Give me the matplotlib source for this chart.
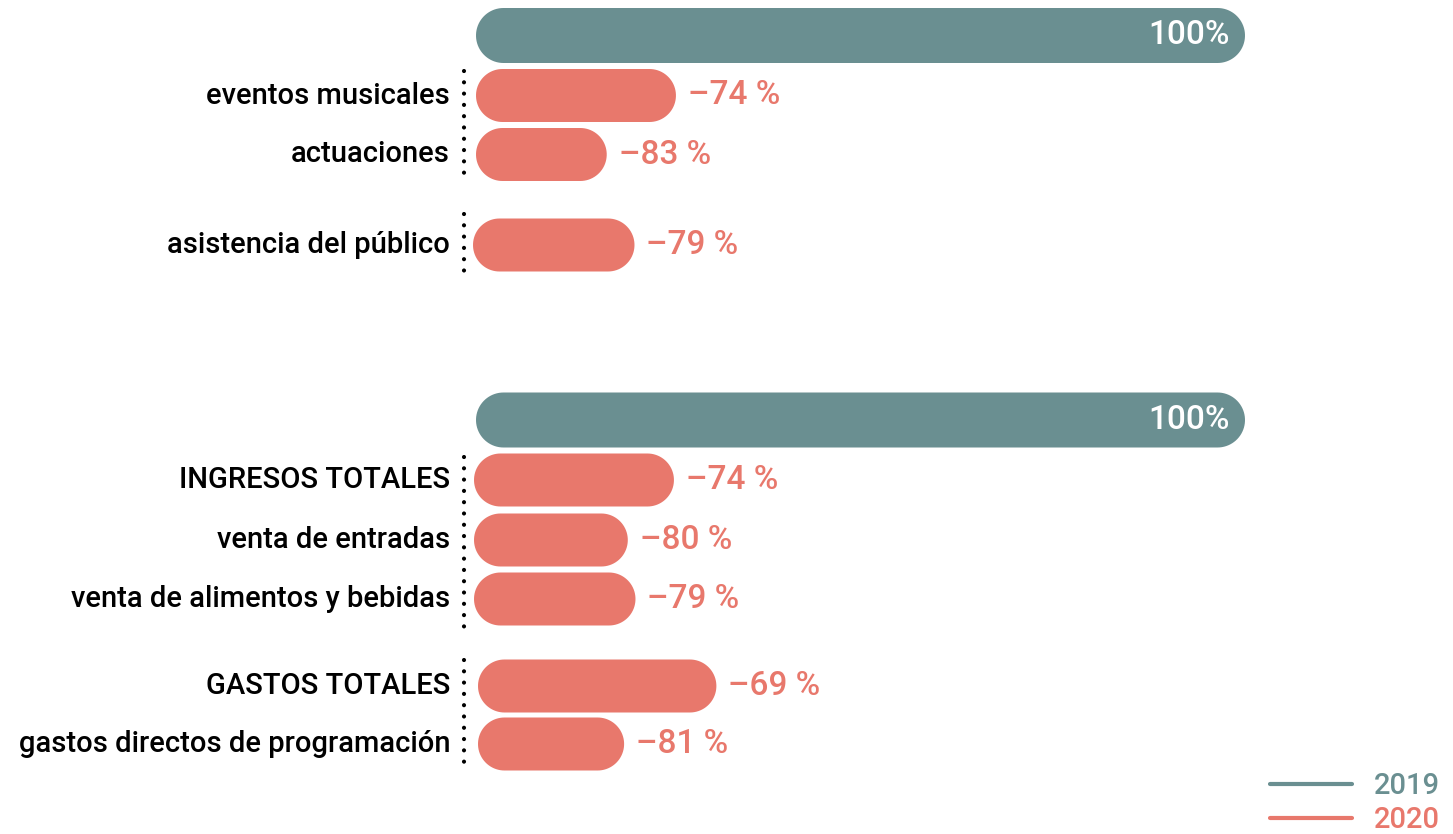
import numpy as np
import matplotlib.pyplot as plt
from matplotlib.patches import Polygon
from matplotlib.lines import Line2D

plt.rcParams['font.family'] = ['Roboto', 'DejaVu Sans']
plt.rcParams['font.weight'] = 'medium'

TEAL = '#6a8f91'
SALMON = '#e8786c'

# Activity indicators (2020 change vs 2019)
activity_labels = ['eventos musicales', 'actuaciones', 'asistencia del público']
activity_change = [-74, -83, -79]

# Economic indicators (2020 change vs 2019)
economic_labels = ['INGRESOS TOTALES', 'venta de entradas', 'venta de alimentos y bebidas',
                   'GASTOS TOTALES', 'gastos directos de programación']
economic_change = [-74, -80, -79, -69, -81]

base_2019 = 100

# layout in pixels, converted to percent units (equal aspect)
W, H = 1453, 834
X0 = 476                  # pixel where 0 % sits
PX = (1245 - X0) / 100    # pixels per percentage point


def xd(px):
    return (px - X0) / PX


def yd(py):
    return py / PX


fig = plt.figure(figsize=(W / 100, H / 100), dpi=100)
ax = fig.add_axes([0, 0, 1, 1])
ax.set_xlim(xd(0), xd(W))
ax.set_ylim(yd(H), yd(0))
ax.set_aspect('equal')
ax.axis('off')


def pill(x0, yc, length, height_px, color):
    # rounded bar: straight body with semicircular ends
    r = yd(height_px) / 2
    t = np.linspace(-np.pi / 2, np.pi / 2, 40)
    right = np.column_stack([x0 + length - r + r * np.cos(t), yc + r * np.sin(t)])
    left = np.column_stack([x0 + r - r * np.cos(t), yc - r * np.sin(t)])
    ax.add_patch(Polygon(np.vstack([right, left]), closed=True, facecolor=color,
                         edgecolor='none'))


def draw_base(y_px):
    yc = yd(y_px)
    pill(0, yc, base_2019, 55, TEAL)
    ax.text(base_2019 - xd(X0 + 15), yc, f'{base_2019}%', color='white',
            fontsize=24, ha='right', va='center')


def draw_rows(labels, changes, rows_px, starts_px):
    for lab, ch, ypx, spx in zip(labels, changes, rows_px, starts_px):
        yc = yd(ypx)
        x0 = xd(spx)
        length = base_2019 + ch
        pill(x0, yc, length, 53, SALMON)
        ax.text(xd(450), yc, lab, fontsize=21, ha='right', va='center', color='black')
        ax.text(x0 + length + xd(X0 + 12), yc, f'–{abs(ch)} %', color=SALMON,
                fontsize=24, ha='left', va='center')


def dots(y_top, y_bot):
    ax.plot([xd(464), xd(464)], [yd(y_top), yd(y_bot)], color='black', lw=3,
            linestyle=(0, (0.01, 2.7)), dash_capstyle='round')


# activity block
draw_base(35.5)
draw_rows(activity_labels, activity_change, [95.5, 154.5, 245], [476, 476, 473])
dots(71, 182)
dots(214, 272)

# economic block
draw_base(420)
draw_rows(economic_labels, economic_change, [480, 540, 599, 686, 744],
          [474, 474, 474, 478, 478])
dots(457, 633)
dots(660, 772)

handles = [Line2D([], [], color=TEAL, lw=3, solid_capstyle='round'),
           Line2D([], [], color=SALMON, lw=3, solid_capstyle='round')]
ax.legend(handles, ['2019', '2020'], loc='lower right', bbox_to_anchor=(1.009, -0.032),
          frameon=False, fontsize=21, handlelength=2.8, handletextpad=0.75,
          labelspacing=0.22, labelcolor=[TEAL, SALMON])

fig.savefig('out.png', dpi=100)
